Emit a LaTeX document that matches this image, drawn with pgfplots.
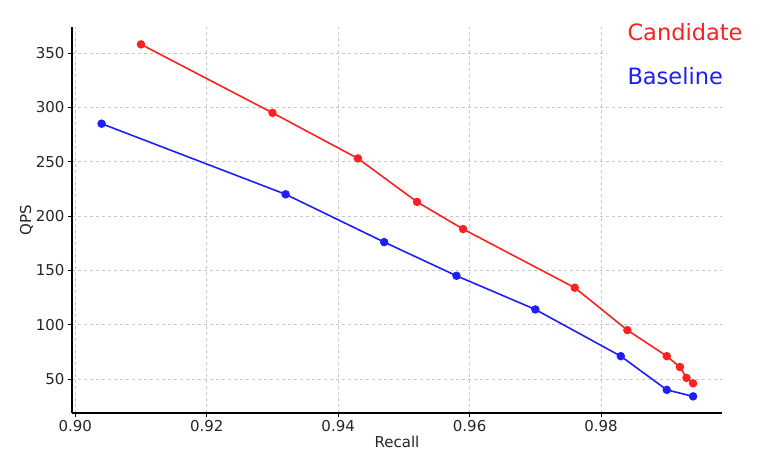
\documentclass[border=0pt]{standalone}
\usepackage{pgfplots}
\pgfplotsset{compat=1.18}
\usepackage{fontspec}
\setmainfont{DejaVu Sans}

\definecolor{candred}{RGB}{255,34,34}
\definecolor{baseblue}{RGB}{30,30,255}
\definecolor{ticktext}{RGB}{38,38,38}

\begin{document}
\begin{tikzpicture}[x=1pt,y=1pt]
  \path[use as bounding box] (0,0) rectangle (780,463);
  \begin{axis}[
      at={(72pt,50pt)}, anchor=south west,
      scale only axis,
      width=650pt, height=386pt,
      xmin=0.8995, xmax=0.9984,
      ymin=18.7, ymax=374,
      axis x line*=bottom, axis y line*=left,
      axis line style={-, black, line width=1.1pt},
      xtick={0.90,0.92,0.94,0.96,0.98},
      ytick={50,100,...,350},
      xticklabel style={/pgf/number format/.cd, fixed, fixed zerofill, precision=2},
      /pgf/number format/assume math mode=true,
      tick align=outside, major tick length=4pt,
      tick style={black, line width=0.8pt},
      ticklabel style={font=\fontsize{15}{18}\selectfont, text=ticktext},
      grid=major,
      major grid style={black!22, dashed, line width=0.5pt},
      xlabel={Recall}, ylabel={QPS},
      label style={font=\fontsize{15}{18}\selectfont, text=ticktext},
      xlabel style={yshift=3pt},
      ylabel style={yshift=-4pt},
      legend style={at={(rel axis cs:0.822,1.03)}, anchor=north west,
        draw=none, fill=white, inner xsep=19pt, inner ysep=6pt,
        row sep=21pt, font=\fontsize{22.5}{26}\selectfont},
      legend cell align=left,
      legend image code/.code={},
      every axis plot/.append style={line width=1.6pt, mark=*, mark size=3.4pt},
    ]
    \addplot[color=candred, mark options={fill=candred}] coordinates {
      (0.910,358) (0.930,295) (0.943,253) (0.952,213) (0.959,188)
      (0.976,134) (0.984,95) (0.990,71) (0.992,61) (0.993,51) (0.994,46)
    };
    \addlegendentry[text=candred]{Candidate}
    \addplot[color=baseblue, mark options={fill=baseblue}] coordinates {
      (0.904,285) (0.932,220) (0.947,176) (0.958,145) (0.970,114)
      (0.983,71) (0.990,40) (0.994,34)
    };
    \addlegendentry[text=baseblue]{Baseline}
  \end{axis}
\end{tikzpicture}
\end{document}
